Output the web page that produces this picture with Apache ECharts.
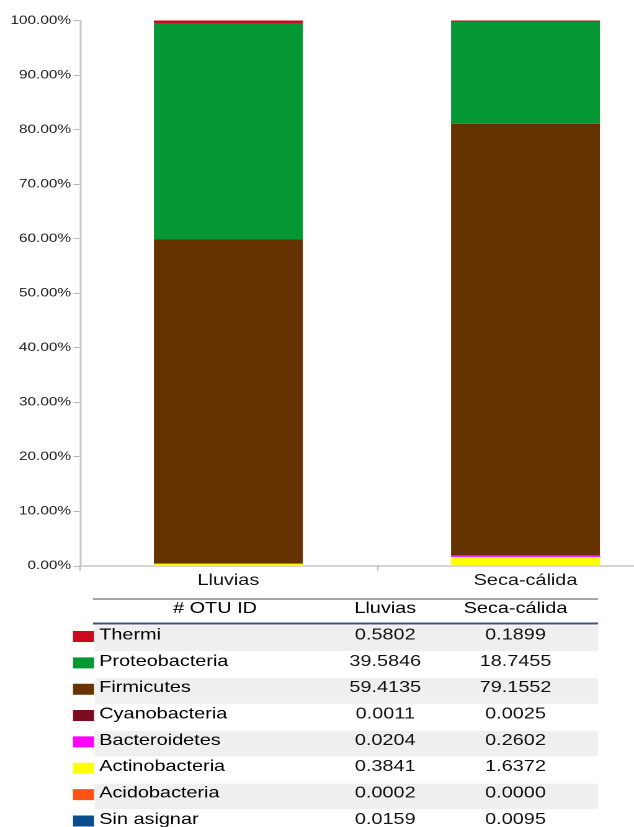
<!DOCTYPE html>
<html>
<head>
<meta charset="utf-8">
<script src="https://cdn.jsdelivr.net/npm/echarts@6/dist/echarts.min.js"></script>
<style>
html,body{margin:0;padding:0;background:#fff;overflow:hidden;}
#wrap{width:634px;height:827px;overflow:hidden;position:relative;}
#chart{width:511px;height:827px;transform:scaleX(1.2407);transform-origin:0 0;position:absolute;left:0;top:0;}
</style>
</head>
<body>
<div id="wrap"><div id="chart"></div></div>
<script>
// ---- data ----
const categories = ['Lluvias', 'Seca-cálida'];
const taxa = ['Thermi', 'Proteobacteria', 'Firmicutes', 'Cyanobacteria', 'Bacteroidetes', 'Actinobacteria', 'Acidobacteria', 'Sin asignar'];
const lluvias = [0.5802, 39.5846, 59.4135, 0.0011, 0.0204, 0.3841, 0.0002, 0.0159];
const secaCalida = [0.1899, 18.7455, 79.1552, 0.0025, 0.2602, 1.6372, 0.0000, 0.0095];
const tableHeader = ['# OTU ID', 'Lluvias', 'Seca-cálida'];

// ---- styles ----
const colors = ['#cc0a1e', '#039834', '#663300', '#7a0c22', '#ff00ff', '#ffff00', '#ff5015', '#0b4d8c'];
const FONT = '"Liberation Sans", Arial, sans-serif';

const chart = echarts.init(document.getElementById('chart'), null, {renderer: 'canvas', devicePixelRatio: 2});

const series = [];
for (let i = taxa.length - 1; i >= 0; i--) {
  series.push({
    type: 'bar', name: taxa[i], stack: 'total', barWidth: 120,
    itemStyle: {color: colors[i]},
    data: [lluvias[i], secaCalida[i]]
  });
}

// table graphic
const graphic = [];
const tLeft = 75, tRight = 482, rowY0 = 635, rowH = 26.35;
const colName = 80, colA = 310.5, colB = 415.5, colHead = 173.3;
graphic.push({type: 'rect', shape: {x: tLeft, y: 598, width: tRight - tLeft, height: 2}, style: {fill: '#a6a6a6'}});
graphic.push({type: 'rect', shape: {x: tLeft, y: 622.5, width: tRight - tLeft, height: 2}, style: {fill: '#3d5080'}});
[colHead, colA, colB].forEach((cx, j) => {
  graphic.push({type: 'text', x: cx, y: 608.5, style: {text: tableHeader[j], fill: '#000', font: '16px ' + FONT, align: 'center', verticalAlign: 'middle'}});
});
taxa.forEach((name, i) => {
  const cy = rowY0 + i * rowH;
  if (i % 2 === 0) {
    graphic.push({type: 'rect', z: 0, shape: {x: tLeft + 1.6, y: cy - 9.5, width: tRight - tLeft - 1.6, height: 25.5}, style: {fill: '#efefef'}});
  }
  graphic.push({type: 'rect', z: 1, shape: {x: 58.8, y: cy - 4, width: 17, height: 11}, style: {fill: colors[i]}});
  graphic.push({type: 'text', z: 2, x: colName, y: cy, style: {text: name, fill: '#000', font: '16px ' + FONT, align: 'left', verticalAlign: 'middle'}});
  graphic.push({type: 'text', z: 2, x: colA, y: cy, style: {text: lluvias[i].toFixed(4), fill: '#111', font: '16px ' + FONT, align: 'center', verticalAlign: 'middle'}});
  graphic.push({type: 'text', z: 2, x: colB, y: cy, style: {text: secaCalida[i].toFixed(4), fill: '#111', font: '16px ' + FONT, align: 'center', verticalAlign: 'middle'}});
});

chart.setOption({
  animation: false,
  backgroundColor: '#fff',
  grid: {left: 64.3, top: 20.5, width: 479, height: 545.3, containLabel: false, outerBoundsMode: 'none'},
  xAxis: {
    type: 'category', data: categories,
    axisLine: {lineStyle: {color: '#c8c8c8', width: 1.5}},
    axisTick: {show: true, length: 5, lineStyle: {color: '#b8b8b8'}},
    axisLabel: {color: '#111', fontSize: 16, fontFamily: FONT, margin: 7}
  },
  yAxis: {
    type: 'value', min: 0, max: 100, interval: 10,
    axisLine: {show: true, lineStyle: {color: '#c8c8c8', width: 1.5}},
    axisTick: {show: true, length: 5, lineStyle: {color: '#b8b8b8'}},
    splitLine: {show: false},
    axisLabel: {color: '#222', fontSize: 12.4, fontFamily: FONT, margin: 7, formatter: v => v.toFixed(2) + '%'}
  },
  series: series,
  graphic: graphic
});
</script>
</body>
</html>
